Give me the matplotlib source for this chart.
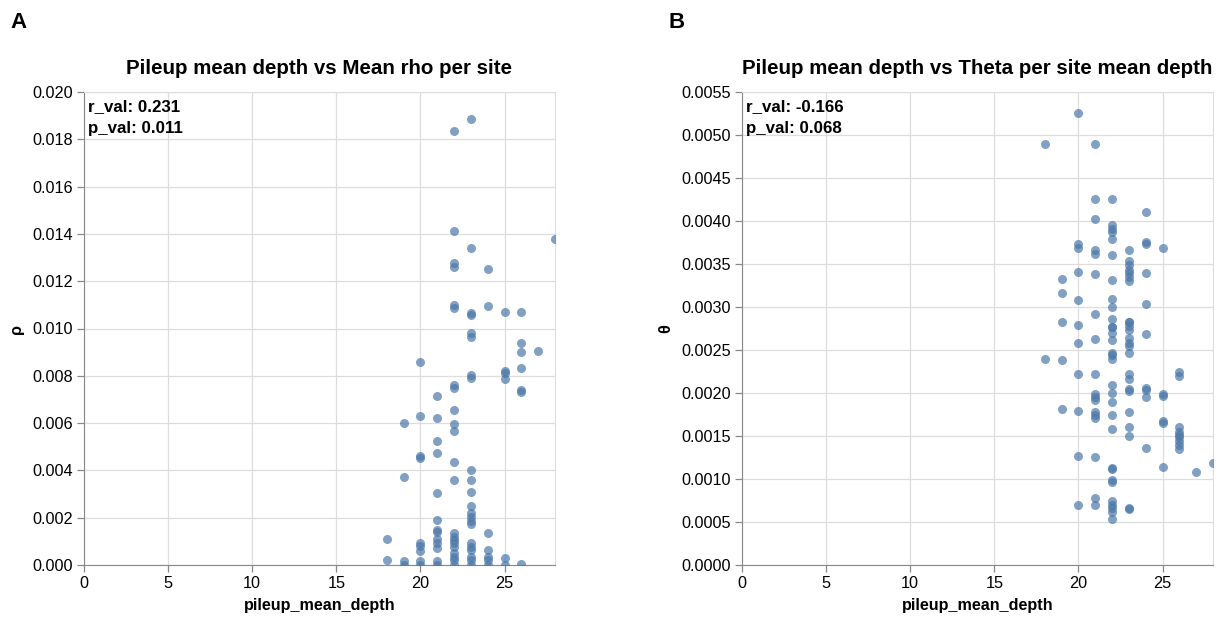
import matplotlib
matplotlib.use("Agg")
import matplotlib.pyplot as plt
import numpy as np

plt.rcParams['font.family'] = ['Liberation Sans', 'DejaVu Sans']

# panel A: pileup mean depth vs mean rho per site
depth_a = [23, 22, 22, 28, 23, 22, 22, 24, 22, 22, 23, 23, 24, 25, 26,
           23, 23, 26, 26, 27, 20, 23, 23, 25, 25, 25, 26, 26, 26, 22, 22,
           21, 22, 20, 21, 19, 22, 22, 21, 21, 20, 20, 22, 23, 19, 22, 23,
           23, 21, 23, 23, 23, 23, 23, 21, 21, 21, 24, 18,
           20, 20, 20, 21, 21, 21,
           22, 22, 22, 22, 22, 22, 22, 22, 22,
           23, 23, 23, 23, 23, 23,
           24, 24, 24, 24, 25, 25, 26, 18, 19, 19, 20, 20, 21, 21]
rho = [18.86, 18.34, 14.12, 13.78, 13.42, 12.76, 12.61, 12.53, 10.99, 10.85,
       10.64, 10.56, 10.95, 10.71, 10.71,
       9.80, 9.65, 9.40, 9.02, 9.06, 8.60, 8.03, 7.89, 8.22, 8.10, 7.85,
       8.32, 7.40, 7.30, 7.61, 7.47,
       7.16, 6.55, 6.30, 6.20, 5.99, 5.96, 5.68, 5.26, 4.75, 4.61, 4.54,
       4.37, 4.02, 3.73, 3.59, 3.59,
       3.10, 3.03, 2.49, 2.21, 2.04, 1.86, 1.73, 1.90, 1.48, 1.41, 1.37, 1.10,
       0.94, 0.80, 0.61, 1.09, 0.92, 0.71,
       1.34, 1.20, 1.06, 0.92, 0.77, 0.49, 0.35, 0.21, 0.02,
       0.92, 0.77, 0.63, 0.35, 0.21, 0.02,
       0.63, 0.35, 0.21, 0.02, 0.28, 0.02, 0.05, 0.21, 0.17, 0.02, 0.17, 0.02,
       0.17, 0.02]
rho = [v * 1e-3 for v in rho]

# panel B: pileup mean depth vs theta per site
depth_b = [20, 18, 21, 21, 22, 24, 21, 22, 22, 22, 22, 20, 20, 21, 21, 22,
           23, 24, 24, 25, 23, 23, 23, 23, 23, 23, 20, 21, 22, 24, 19, 19, 20,
           22, 22, 24, 21, 19, 20, 22, 22, 23, 23,
           22, 22, 23, 23, 23, 23, 23, 23, 24, 20, 21, 22, 22, 22, 22, 18, 19,
           20, 21, 23, 23, 26, 26, 22, 22, 23, 23, 24, 24, 24, 25, 25,
           21, 21, 21, 22, 19, 20, 21, 21, 21, 22, 23, 25, 25, 22, 23, 23,
           26, 26, 26, 26, 26, 26, 26, 24, 20, 21, 25, 22, 22, 28, 27, 22, 22,
           21, 21, 20, 22, 22, 22, 22, 22, 23, 23]
theta = [52.6, 48.9, 48.9, 42.6, 42.6, 41.0, 40.2, 39.5, 39.1, 38.7, 37.9,
         37.3, 36.9, 36.6, 36.2, 36.0, 36.6, 37.5, 37.3, 36.9,
         35.3, 34.9, 34.3, 33.9, 33.5, 33.0, 34.1, 33.8, 33.1, 33.9, 33.3,
         31.6, 30.8, 30.9, 30.0, 30.4, 29.2, 28.2, 27.9, 28.6, 27.7, 28.3, 27.8,
         27.7, 27.0, 28.2, 27.3, 26.4, 25.8, 25.5, 24.7, 26.9, 25.8, 26.3,
         26.2, 24.7, 24.4, 24.0, 24.0, 23.8,
         22.2, 22.2, 22.2, 21.6, 22.4, 22.0, 20.9, 20.0, 20.5, 20.2, 20.6,
         20.3, 19.5, 19.9, 19.7,
         19.9, 19.5, 19.2, 18.9, 18.1, 17.9, 17.8, 17.4, 17.1, 17.5, 17.8,
         16.7, 16.5, 15.8, 16.0, 15.0,
         16.1, 15.5, 15.1, 14.9, 14.4, 13.9, 13.5, 13.6, 12.7, 12.6, 11.4,
         11.3, 11.2, 11.9, 10.8, 9.9, 9.7,
         7.8, 7.0, 7.0, 7.4, 7.0, 6.6, 6.2, 5.4, 6.6, 6.5]
theta = [v * 1e-4 for v in theta]

titles = ["Pileup mean depth vs Mean rho per site",
          "Pileup mean depth vs Theta per site mean depth"]
ylabels = ["ρ", "θ"]
stats = ["r_val: 0.231\np_val: 0.011", "r_val: -0.166\np_val: 0.068"]
panel_tags = ["A", "B"]
yticks_a = np.arange(0, 0.0201, 0.002)
yticks_b = np.arange(0, 0.00551, 0.0005)
xticks = [0, 5, 10, 15, 20, 25]

W, H = 1229, 617
fig = plt.figure(figsize=(W / 100, H / 100), dpi=100)

panels = [(84, depth_a, rho, yticks_a, "{:.3f}", 0.020),
          (742, depth_b, theta, yticks_b, "{:.4f}", 0.0055)]

for i, (left, xs, ys, yt, fmt, ymax) in enumerate(panels):
    ax = fig.add_axes([left / W, (H - 565) / H, 471 / W, 473 / H])
    ax.scatter(xs, ys, s=42, color='#4c78a8', alpha=0.7, linewidths=0, zorder=3)
    ax.set_xlim(0, 28)
    ax.set_ylim(0, ymax)
    ax.set_xticks(xticks)
    ax.set_yticks(yt)
    ax.set_yticklabels([fmt.format(v) for v in yt])
    ax.grid(True, color='#dddddd', linewidth=0.9, zorder=0)
    for side in ['top', 'right']:
        ax.spines[side].set_color('#dddddd')
    for side in ['left', 'bottom']:
        ax.spines[side].set_color('#888888')
    ax.tick_params(colors='#888888', labelcolor='#000000', labelsize=11.7,
                   length=5, width=0.9, pad=3)
    ax.set_xlabel("pileup_mean_depth", fontsize=11.6, fontweight='bold', labelpad=5)
    ax.set_ylabel(ylabels[i], fontsize=11.6, fontweight='bold', labelpad=6)
    ax.set_title(titles[i], fontsize=14.8, fontweight='bold', pad=13)
    ax.text(0.009, 0.985, stats[i], transform=ax.transAxes, ha='left', va='top',
            fontsize=12.2, fontweight='bold', linespacing=1.6)
    fig.text((left - 74) / W, 1 - 22 / H, panel_tags[i], fontsize=16,
             fontweight='bold', ha='left', va='center')

fig.savefig("out.png", dpi=100)
